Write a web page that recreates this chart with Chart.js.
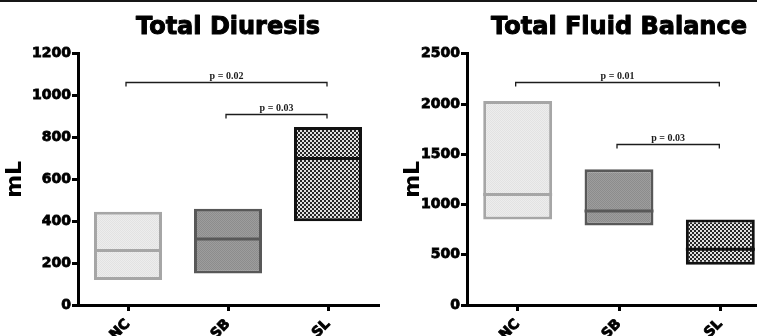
<!DOCTYPE html>
<html>
<head>
<meta charset="utf-8">
<script src="https://cdn.jsdelivr.net/npm/chart.js@4.4.1/dist/chart.umd.min.js"></script>
<style>
  html, body { margin: 0; padding: 0; background: #fff; overflow: hidden; }
  #wrap { position: relative; width: 757px; height: 336px; overflow: hidden; }
  #topline { position: absolute; left: 0; top: 0; width: 757px; height: 2px; background: #161616; z-index: 2; }
  #left { position: absolute; left: 0; top: 0; }
  #right { position: absolute; left: 380px; top: 0; }
</style>
</head>
<body>
<div id="wrap">
  <div id="topline"></div>
  <canvas id="left" width="380" height="360"></canvas>
  <canvas id="right" width="400" height="360"></canvas>
</div>
<script>
// Data
const categories = ["NC", "SB", "SL"];

const diuresisMin = [120, 150, 400];
const diuresisMax = [445, 460, 850];
const diuresisMedian = [260, 315, 700];
const diuresisTicks = [0, 200, 400, 600, 800, 1000, 1200];

const balanceMin = [850, 790, 400];
const balanceMax = [2030, 1350, 850];
const balanceMedian = [1100, 935, 555];
const balanceTicks = [0, 500, 1000, 1500, 2000, 2500];

const diuresisBrackets = [
    { from: 0, to: 2, y: 1067, label: "p = 0.02" },
    { from: 1, to: 2, y: 914, label: "p = 0.03" }
];
const balanceBrackets = [
    { from: 0, to: 2, y: 2222, label: "p = 0.01" },
    { from: 1, to: 2, y: 1607, label: "p = 0.03" }
];

// Fill textures
const makePattern = (size, cells) => {
    const c = document.createElement("canvas");
    c.width = size; c.height = size;
    const g = c.getContext("2d");
    cells.forEach(([x, y, w, h, col]) => { g.fillStyle = col; g.fillRect(x, y, w, h); });
    return g.createPattern(c, "repeat");
};
const fillNC = makePattern(2, [[0, 0, 2, 2, "#ededed"], [0, 0, 1, 1, "#e2e2e2"], [1, 1, 1, 1, "#e2e2e2"]]);
const fillSB = makePattern(2, [[0, 0, 2, 2, "#9d9d9d"], [0, 0, 1, 1, "#8c8c8c"], [1, 1, 1, 1, "#8c8c8c"]]);
const fillSL = makePattern(4, [[0, 0, 4, 4, "#e0e0e0"], [0, 0, 2, 2, "#262626"], [2, 2, 2, 2, "#262626"]]);
const fills = [fillNC, fillSB, fillSL];
const borders = ["#a6a6a6", "#585858", "#111111"];

const makeExtras = (title, medians, brackets) => ({
    id: "boxExtras",
    afterDatasetsDraw(chart) {
        const ctx = chart.ctx;
        const yScale = chart.scales.y;
        const meta = chart.getDatasetMeta(0);
        ctx.save();
        // median lines
        meta.data.forEach((bar, i) => {
            const py = yScale.getPixelForValue(medians[i]);
            ctx.strokeStyle = borders[i];
            ctx.lineWidth = 3;
            ctx.beginPath();
            ctx.moveTo(bar.x - bar.width / 2, py);
            ctx.lineTo(bar.x + bar.width / 2, py);
            ctx.stroke();
        });
        // significance brackets
        brackets.forEach(b => {
            const x1 = meta.data[b.from].x - 2;
            const x2 = meta.data[b.to].x - 1;
            const py = Math.round(yScale.getPixelForValue(b.y)) + 0.5;
            ctx.strokeStyle = "#1c1c1c";
            ctx.lineWidth = 1.3;
            ctx.beginPath();
            ctx.moveTo(x1, py + 4);
            ctx.lineTo(x1, py);
            ctx.lineTo(x2, py);
            ctx.lineTo(x2, py + 4);
            ctx.stroke();
            ctx.fillStyle = "#1c1c1c";
            ctx.font = "bold 10px 'Liberation Serif', serif";
            ctx.textAlign = "center";
            ctx.textBaseline = "alphabetic";
            ctx.fillText(b.label, (x1 + x2) / 2, py - 4);
        });
        ctx.restore();
    },
    afterDraw(chart) {
        // heavy title drawn over the (transparent) built-in title block
        const t = chart.titleBlock;
        const ctx = chart.ctx;
        ctx.save();
        ctx.font = "bold 24px 'DejaVu Sans', sans-serif";
        ctx.textAlign = "center";
        ctx.textBaseline = "middle";
        ctx.fillStyle = "#000";
        ctx.strokeStyle = "#000";
        ctx.lineWidth = 1;
        ctx.lineJoin = "round";
        const cx = t.left + t.width / 2;
        const cy = t.top + t.height / 2 + 1;
        ctx.strokeText(title, cx, cy);
        ctx.fillText(title, cx, cy);
        ctx.restore();
    }
});

const tickFont = { family: "'DejaVu Sans', sans-serif", weight: "bold", size: 14 };

const buildChart = (id, title, mins, maxs, medians, ticks, brackets, yWidth, padLeft, padRight) => {
    new Chart(document.getElementById(id), {
        type: "bar",
        data: {
            labels: categories,
            datasets: [{
                data: mins.map((m, i) => [m, maxs[i]]),
                backgroundColor: fills,
                borderColor: borders,
                borderWidth: 3,
                borderSkipped: false,
                barPercentage: 0.68,
                categoryPercentage: 1
            }]
        },
        options: {
            responsive: false,
            animation: false,
            layout: { padding: { left: padLeft, right: padRight, top: 0, bottom: 0 } },
            plugins: {
                legend: { display: false },
                tooltip: { enabled: false },
                title: {
                    display: true,
                    text: title,
                    fullSize: false,
                    color: "rgba(0,0,0,0)",
                    font: { family: "'DejaVu Sans', sans-serif", weight: "bold", size: 24 },
                    padding: { top: 12, bottom: 13 }
                }
            },
            scales: {
                x: {
                    offset: true,
                    afterFit: s => { s.height = 55; },
                    border: { display: true, color: "#000", width: 3 },
                    grid: { offset: false, drawOnChartArea: false, drawTicks: true, tickLength: 6, lineWidth: 3, color: "#000" },
                    ticks: { color: "#000", font: tickFont, maxRotation: 45, minRotation: 45, padding: 5,
                             textStrokeColor: "#000", textStrokeWidth: 0.8 }
                },
                y: {
                    min: 0,
                    max: ticks[ticks.length - 1],
                    afterBuildTicks: s => { s.ticks = ticks.map(v => ({ value: v })); },
                    afterFit: s => { s.width = yWidth; },
                    border: { display: true, color: "#000", width: 3 },
                    grid: { drawOnChartArea: false, drawTicks: true, tickLength: 6, lineWidth: 3, color: "#000" },
                    ticks: { color: "#000", font: tickFont, padding: 1, callback: v => String(v),
                             textStrokeColor: "#000", textStrokeWidth: 0.8 },
                    title: {
                        display: true,
                        text: "mL",
                        color: "#000",
                        font: { family: "'DejaVu Sans', sans-serif", weight: "bold", size: 22 },
                        padding: { top: 2, bottom: 0 }
                    }
                }
            }
        },
        plugins: [makeExtras(title, medians, brackets)]
    });
};

buildChart("left", "Total Diuresis", diuresisMin, diuresisMax, diuresisMedian, diuresisTicks, diuresisBrackets, 78, 0, 2);
buildChart("right", "Total Fluid Balance", balanceMin, balanceMax, balanceMedian, balanceTicks, balanceBrackets, 69, 18, 9);
</script>
</body>
</html>
